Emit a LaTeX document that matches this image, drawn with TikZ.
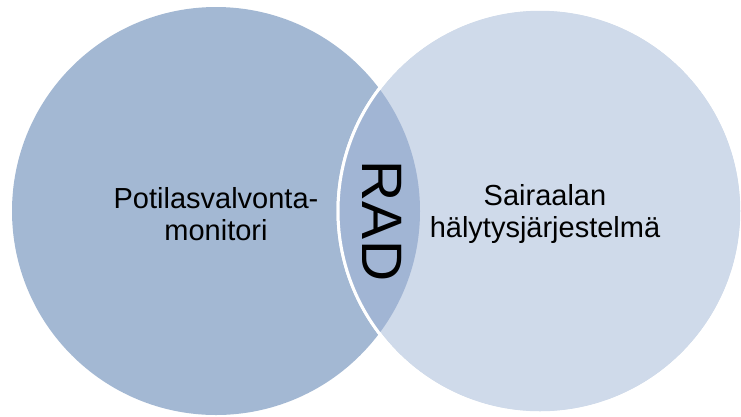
\documentclass[tikz,border=0pt]{standalone}
\usepackage{fontspec}
\setmainfont{Liberation Sans}
\definecolor{leftc}{RGB}{163,184,211}
\definecolor{rightc}{RGB}{207,218,234}
\definecolor{lensc}{RGB}{161,181,212}
\begin{document}
\begin{tikzpicture}[x=1pt,y=-1pt,
  lbl/.style={align=center,font=\fontsize{29}{32}\selectfont,text=black,inner sep=0pt},
  radlbl/.style={font=\fontsize{57}{60}\selectfont,text=black,inner sep=0pt,rotate=-90}]
\useasboundingbox (0,0) rectangle (741,416);
\fill[leftc] (216,211) circle (204);
\fill[rightc,draw=white,line width=3pt] (540,211) circle (202);
\begin{scope}
  \clip (540,211) circle (202);
  \fill[lensc] (216,211) circle (204);
\end{scope}
\draw[white,line width=3pt] (540,211) circle (202);
\node[lbl] (left) at (216,214) {Potilasvalvonta-\\monitori};
\node[lbl] (right) at (545,214) {Sairaalan\\hälytysjärjestelmä};
\node[radlbl] (rad) at (382,221) {RAD};
\end{tikzpicture}
\end{document}
